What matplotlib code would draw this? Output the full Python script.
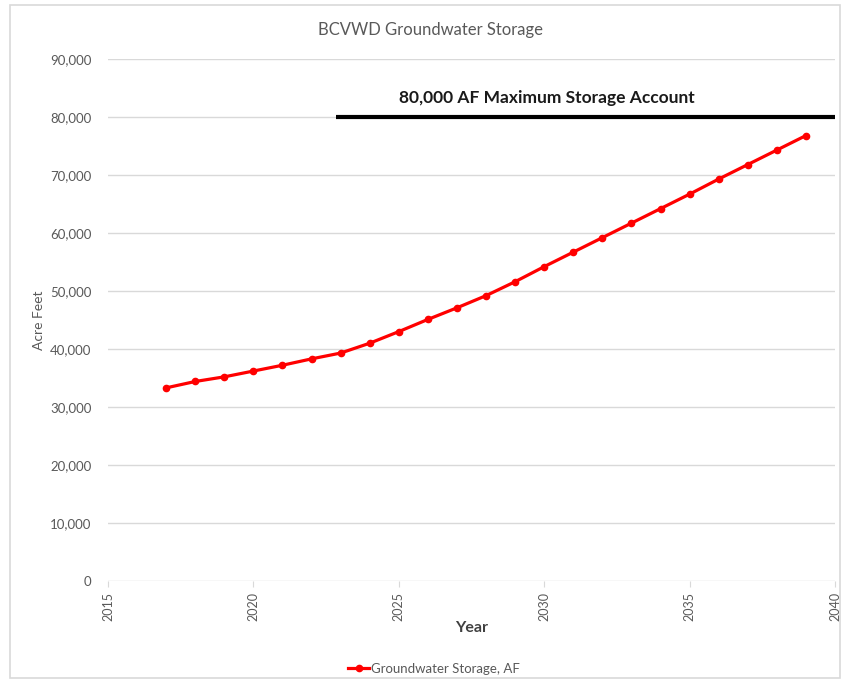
import matplotlib.pyplot as plt
from matplotlib.patches import Rectangle
from matplotlib.ticker import FuncFormatter

# Projected groundwater storage by year (acre-feet)
years = [2017, 2018, 2019, 2020, 2021, 2022, 2023, 2024, 2025, 2026, 2027, 2028,
         2029, 2030, 2031, 2032, 2033, 2034, 2035, 2036, 2037, 2038, 2039]
storage_af = [33300, 34400, 35200, 36200, 37200, 38300, 39300, 41000, 43000, 45100,
              47100, 49200, 51600, 54200, 56700, 59200, 61700, 64200, 66700, 69300,
              71800, 74300, 76800]

max_storage = 80000
max_start, max_end = 2022.85, 2040
x_ticks = [2015, 2020, 2025, 2030, 2035, 2040]
y_ticks = list(range(0, 90001, 10000))

plt.rcParams['font.family'] = ['Lato', 'DejaVu Sans']
grey = '#595959'

fig = plt.figure(figsize=(8.43, 6.85), dpi=100)
fig.patches.append(Rectangle((0.012, 0.01), 0.985, 0.982, transform=fig.transFigure,
                             fill=False, edgecolor='#d9d9d9', linewidth=1.2))
ax = fig.add_axes([108 / 843, 1 - 581 / 685, (835 - 108) / 843, (581 - 59) / 685])

ax.plot(years, storage_af, color='#ff0000', linewidth=2.3, marker='o',
        markersize=4.5, label='Groundwater Storage, AF', zorder=3)
ax.plot([max_start, max_end], [max_storage, max_storage], color='black',
        linewidth=3.0, solid_capstyle='butt', zorder=2, clip_on=False)
ax.text(2030.1, max_storage + 3200, '80,000 AF Maximum Storage Account',
        ha='center', va='center', fontsize=12.5, fontweight='bold', color='#1a1a1a')

ax.set_xlim(2015, 2040)
ax.set_ylim(0, 90000)
ax.set_xticks(x_ticks)
ax.set_yticks(y_ticks)
ax.yaxis.set_major_formatter(FuncFormatter(lambda v, p: f'{int(v):,}'))
ax.grid(axis='y', color='#d9d9d9', linewidth=1)
ax.set_axisbelow(True)
for s in ax.spines.values():
    s.set_visible(False)
ax.tick_params(axis='y', length=0, labelsize=9.5, labelcolor=grey, pad=12)
ax.tick_params(axis='x', length=4, color='#d9d9d9', labelsize=9, labelcolor=grey,
               labelrotation=90, pad=4)

fig.text(430 / 843, 1 - 30 / 685, 'BCVWD Groundwater Storage', ha='center',
         va='center', fontsize=12, color=grey)
ax.set_xlabel('Year', fontsize=11.5, fontweight='bold', color='#404040', va='center')
ax.xaxis.set_label_coords((472 - 108) / 727, -(628 - 581) / 522)
ax.set_ylabel('Acre Feet', fontsize=10, color=grey, va='center')
ax.yaxis.set_label_coords(-(108 - 39) / 727, 0.5)

fig.legend(loc='center', bbox_to_anchor=(434 / 843, 1 - 669 / 685), frameon=False,
           fontsize=9.5, labelcolor=grey, handlelength=1.6, handletextpad=0.1)

fig.savefig('out.png', dpi=100)
